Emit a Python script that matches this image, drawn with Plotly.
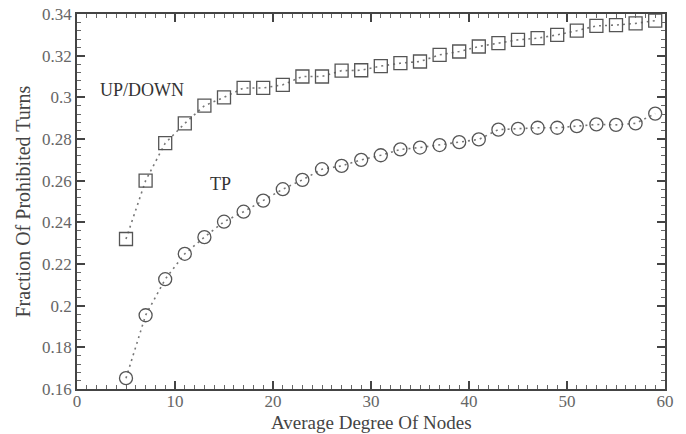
import plotly.graph_objects as go

x_vals = [5, 7, 9, 11, 13, 15, 17, 19, 21, 23, 25, 27, 29, 31, 33, 35, 37, 39,
          41, 43, 45, 47, 49, 51, 53, 55, 57, 59]
updown = [0.232, 0.260, 0.278, 0.2875, 0.296, 0.300, 0.3045, 0.3045, 0.306, 0.310,
          0.310, 0.3128, 0.313, 0.315, 0.3164, 0.3172, 0.3204, 0.322, 0.3244, 0.326,
          0.3276, 0.3284, 0.330, 0.332, 0.3343, 0.3347, 0.3355, 0.3368]
tp = [0.1652, 0.1954, 0.2127, 0.2249, 0.2329, 0.2403, 0.2451, 0.2504, 0.2559, 0.2604,
      0.2655, 0.2671, 0.270, 0.2722, 0.275, 0.2759, 0.2771, 0.2785, 0.2798, 0.2845,
      0.2849, 0.2854, 0.2854, 0.2862, 0.287, 0.2868, 0.2875, 0.2922]

x_ticks = [0, 10, 20, 30, 40, 50, 60]
y_ticks = [0.16, 0.18, 0.2, 0.22, 0.24, 0.26, 0.28, 0.3, 0.32, 0.34]
y_tick_labels = ["0.16", "0.18", "0.2", "0.22", "0.24", "0.26", "0.28", "0.3", "0.32", "0.34"]

gray = "#555555"
font = "Liberation Serif, Times New Roman, serif"

fig = go.Figure()
fig.add_trace(go.Scatter(
    x=x_vals, y=updown, mode="lines+markers", name="UP/DOWN",
    line=dict(color="#777777", width=1.6, dash="2px,4px"),
    marker=dict(symbol="square-open", size=13, color=gray, line=dict(width=1.3, color=gray)),
))
fig.add_trace(go.Scatter(
    x=x_vals, y=tp, mode="lines+markers", name="TP",
    line=dict(color="#777777", width=1.6, dash="2px,4px"),
    marker=dict(symbol="circle-open", size=13, color=gray, line=dict(width=1.3, color=gray)),
))

fig.add_annotation(x=6.6, y=0.3037, text="UP/DOWN", showarrow=False,
                   font=dict(family=font, size=18, color="#333333"))
fig.add_annotation(x=14.6, y=0.2583, text="TP", showarrow=False,
                   font=dict(family=font, size=18, color="#333333"))

# axis titles
fig.add_annotation(xref="paper", yref="paper", x=0.5, y=0, yshift=-33, yanchor="middle",
                   text="Average Degree Of Nodes", showarrow=False, borderpad=0,
                   font=dict(family=font, size=19, color="#444444"))
fig.add_annotation(xref="paper", yref="paper", x=0, xshift=-55, y=0.5, xanchor="center",
                   text="Fraction Of Prohibited Turns", showarrow=False, textangle=-90,
                   font=dict(family=font, size=20, color="#444444"))

axis_common = dict(
    showgrid=False, zeroline=False, showline=True, linecolor="#444444", linewidth=1.5,
    mirror="allticks", ticks="inside", ticklen=8, tickwidth=1.5, tickcolor="#444444",
    tickfont=dict(family=font, size=17, color="#666666"), automargin=False,
    ticklabeloverflow="allow",
)

fig.update_xaxes(
    range=[0, 60], tickvals=x_ticks, ticklabelstandoff=-4,
    minor=dict(dtick=1, ticks="inside", ticklen=4, tickcolor="#666666", tickwidth=1),
    **axis_common,
)
fig.update_yaxes(
    range=[0.16, 0.34], tickvals=y_ticks, ticktext=y_tick_labels,
    minor=dict(dtick=0.004, ticks="inside", ticklen=4, tickcolor="#666666", tickwidth=1),
    **axis_common,
)

fig.update_layout(
    width=686, height=434,
    margin=dict(l=77, r=21, t=14, b=45),
    paper_bgcolor="white", plot_bgcolor="white",
    showlegend=False,
)

fig.write_html("out.html", config={"displayModeBar": False},
               post_script="document.body.style.margin='0';")
